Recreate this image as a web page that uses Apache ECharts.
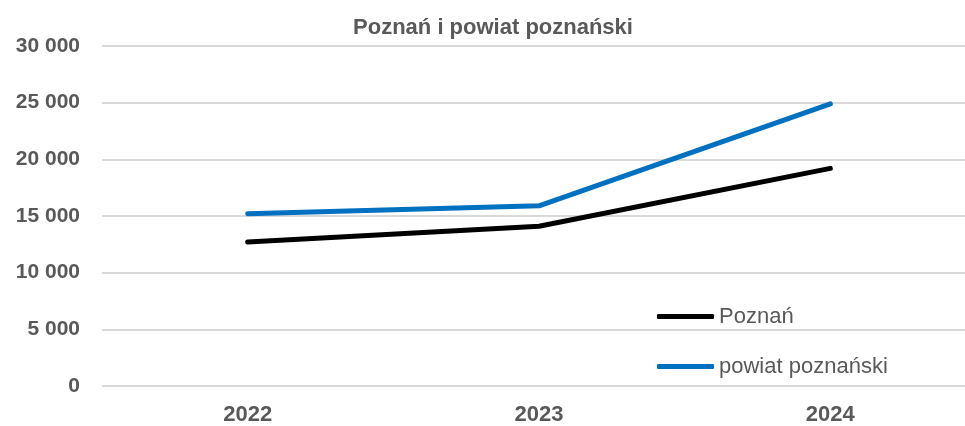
<!DOCTYPE html>
<html>
<head>
<meta charset="utf-8">
<script src="https://cdn.jsdelivr.net/npm/echarts@6/dist/echarts.min.js"></script>
<style>
  html, body { margin: 0; padding: 0; background: #fff; overflow: hidden; }
  /* the plot runs slightly past the right edge of the window */
  #chart { width: 976px; height: 426px; }
</style>
</head>
<body>
<div id="chart"></div>
<script>
// Years on the category axis
const years = ['2022', '2023', '2024'];
// Values per area
const poznan = [12700, 14100, 19200];
const powiat = [15200, 15900, 24900];
// Value axis ticks
const yTicks = [0, 5000, 10000, 15000, 20000, 25000, 30000];

const FONT = '"Liberation Sans", Arial, sans-serif';
const GREY = '#595959';

function fmt(v) {
  // thousands separated by a space, e.g. 25 000
  return String(v).replace(/\B(?=(\d{3})+(?!\d))/g, ' ');
}

const chart = echarts.init(document.getElementById('chart'), null, { renderer: 'canvas' });
chart.setOption({
  animation: false,
  backgroundColor: '#ffffff',
  title: {
    text: 'Poznań i powiat poznański',
    left: 488,
    textAlign: 'center',
    top: 12,
    textStyle: { fontFamily: FONT, fontSize: 22, fontWeight: 'bold', color: GREY }
  },
  legend: {
    orient: 'vertical',
    left: 657,
    top: 305,
    padding: 0,
    itemWidth: 57,
    itemHeight: 5,
    itemGap: 27,
    icon: 'roundRect',
    textStyle: { fontFamily: FONT, fontSize: 22, color: GREY, lineHeight: 23 },
    data: ['Poznań', 'powiat poznański']
  },
  grid: { left: 102, top: 46, right: 0, bottom: 40, containLabel: false },
  xAxis: {
    type: 'category',
    data: years,
    boundaryGap: true,
    axisLine: { show: false },
    axisTick: { show: false },
    axisLabel: { margin: 18, fontFamily: FONT, fontSize: 22, fontWeight: 'bold', color: GREY }
  },
  yAxis: {
    type: 'value',
    min: yTicks[0],
    max: yTicks[yTicks.length - 1],
    interval: yTicks[1] - yTicks[0],
    axisLine: { show: false },
    axisTick: { show: false },
    splitLine: { lineStyle: { color: '#d9d9d9', width: 2 } },
    axisLabel: {
      margin: 22,
      fontFamily: FONT, fontSize: 21, fontWeight: 'bold', color: GREY,
      formatter: fmt
    }
  },
  series: [
    {
      name: 'Poznań',
      type: 'line',
      data: poznan,
      symbol: 'none',
      itemStyle: { color: '#000000' },
      lineStyle: { color: '#000000', width: 5, cap: 'round', join: 'round' }
    },
    {
      name: 'powiat poznański',
      type: 'line',
      data: powiat,
      symbol: 'none',
      itemStyle: { color: '#0070c0' },
      lineStyle: { color: '#0070c0', width: 5, cap: 'round', join: 'round' }
    }
  ]
});
</script>
</body>
</html>
